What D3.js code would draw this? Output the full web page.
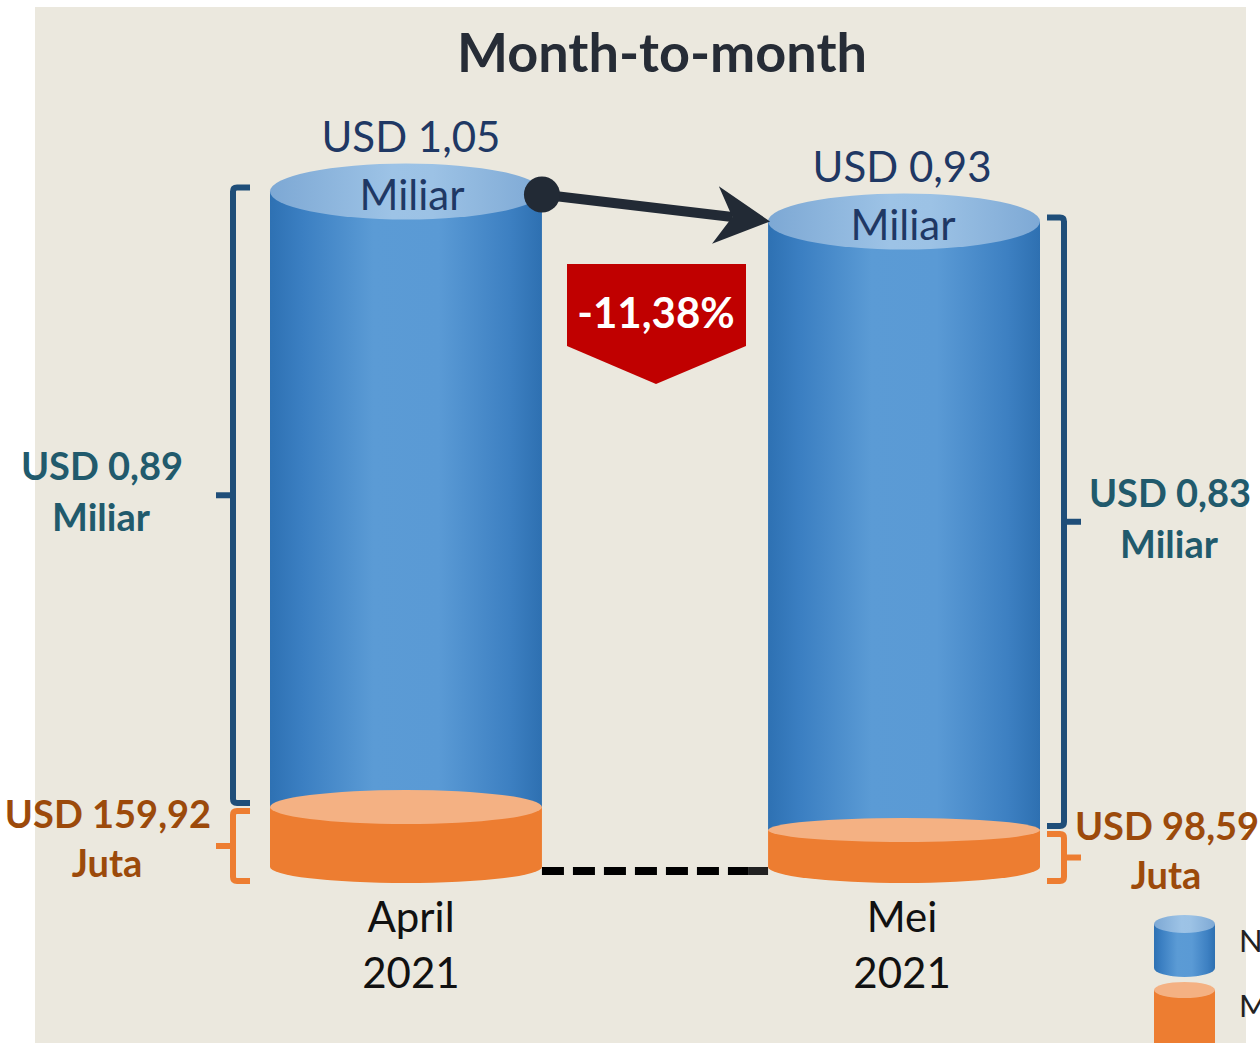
<!DOCTYPE html>
<html>
<head>
<meta charset="utf-8">
<script src="https://cdn.jsdelivr.net/npm/d3@7"></script>
<style>
  html, body { margin: 0; padding: 0; background: #fff; overflow: hidden; }
  text { font-family: Lato, "Noto Sans", sans-serif; }
</style>
</head>
<body>
<svg id="chart" width="1260" height="1043"></svg>
<script>
// data
const months = ["April", "Mei"];
const years = ["2021", "2021"];
const totalMiliar = [1.05, 0.93];
const nonmigasMiliar = [0.89, 0.83];
const migasJuta = [159.92, 98.59];
const totalLabels = ["USD 1,05", "USD 0,93"];
const nonmigasLabels = ["USD 0,89", "USD 0,83"];
const migasLabels = ["USD 159,92", "USD 98,59"];
const changeLabel = "-11,38%";
const legendNames = ["Nonmigas", "Migas"];

const svg = d3.select("#chart");
const W = 1260, H = 1043;
const baseY = 867;

// background panel
svg.append("rect").attr("x", 35).attr("y", 7).attr("width", 1211).attr("height", H - 7).attr("fill", "#EBE8DE");

const defs = svg.append("defs");
function hGrad(id, stops) {
  const g = defs.append("linearGradient").attr("id", id).attr("x1", 0).attr("x2", 1).attr("y1", 0).attr("y2", 0);
  stops.forEach(s => g.append("stop").attr("offset", s[0]).attr("stop-color", s[1]));
}
hGrad("blueSide", [[0, "#2E71B3"], [0.12, "#3B7FC2"], [0.38, "#5B9BD5"], [0.62, "#5A9AD5"], [0.88, "#3D80C2"], [1, "#2E70B1"]]);
hGrad("blueTop", [[0, "#7DA8D4"], [0.45, "#9DC3E6"], [0.6, "#9CC2E5"], [1, "#7EA9D5"]]);

// scales
const x = d3.scaleBand().domain(months).range([270, 1040]).paddingInner(0.454).paddingOuter(0);
const yTotal = d3.scaleLinear().domain([0, 1.2]).range([454, 154]);
const hMigas = d3.scaleLinear().domain([0, 160]).range([0, 60]);

const rx = x.bandwidth() / 2;
const ryTop = 28, ryBot = 16;
const ryMid = [17, 12];
const labelShift = [5, -2];

// title
svg.append("text").attr("x", 662).attr("y", 72).attr("text-anchor", "middle")
  .attr("font-size", 54).attr("font-weight", 700).attr("fill", "#262C36").text("Month-to-month");

const cyl = months.map((m, i) => {
  const x0 = x(m), x1 = x(m) + x.bandwidth();
  return { i, x0, x1, cx: (x0 + x1) / 2, top: yTotal(totalMiliar[i]), mid: baseY - hMigas(migasJuta[i]) };
});

function drawCylinder(g, x0, x1, top, mid, bot, rTop, rMid, rBot) {
  const cx = (x0 + x1) / 2, r = (x1 - x0) / 2;
  g.append("path")
    .attr("d", `M${x0},${top}L${x0},${mid}L${x1},${mid}L${x1},${top}Z`)
    .attr("fill", "url(#blueSide)");
  g.append("ellipse").attr("cx", cx).attr("cy", top).attr("rx", r).attr("ry", rTop).attr("fill", "url(#blueTop)");
  if (bot != null) {
    g.append("path")
      .attr("d", `M${x0},${mid}L${x0},${bot}A${r},${rBot} 0 0 0 ${x1},${bot}L${x1},${mid}Z`)
      .attr("fill", "#ED7D31");
    g.append("ellipse").attr("cx", cx).attr("cy", mid).attr("rx", r).attr("ry", rMid).attr("fill", "#F4B183");
  }
}

// bottom dashed connector
svg.append("line").attr("x1", cyl[0].x1).attr("x2", cyl[1].x0 - 20).attr("y1", baseY + 4).attr("y2", baseY + 4)
  .attr("stroke", "#000").attr("stroke-width", 8).attr("stroke-dasharray", "22,9");
svg.append("line").attr("x1", cyl[1].x0 - 20).attr("x2", cyl[1].x0).attr("y1", baseY + 4).attr("y2", baseY + 4)
  .attr("stroke", "#222").attr("stroke-width", 8);

cyl.forEach(c => {
  const g = svg.append("g");
  const lx = c.cx + labelShift[c.i];
  drawCylinder(g, c.x0, c.x1, c.top, c.mid, baseY, ryTop, ryMid[c.i], ryBot);

  g.append("text").attr("x", lx).attr("y", c.top - 40).attr("text-anchor", "middle")
    .attr("font-size", 42).attr("fill", "#1F3864").text(totalLabels[c.i]);
  g.append("text").attr("x", lx + 1).attr("y", c.top + 18).attr("text-anchor", "middle")
    .attr("font-size", 42).attr("fill", "#1F3864").text("Miliar");

  g.append("text").attr("x", lx).attr("y", 932).attr("text-anchor", "middle")
    .attr("font-size", 42).attr("fill", "#111").text(months[c.i]);
  g.append("text").attr("x", lx).attr("y", 988).attr("text-anchor", "middle")
    .attr("font-size", 42).attr("fill", "#111").text(years[c.i]);
});

// curly brackets
function bracket(xv, y0, y1, side, color) {
  // side = -1: hooks point right, tick points left ("{"); side = 1: the mirror ("}")
  const hook = 17 * -side, tick = 17 * side, ym = (y0 + y1) / 2, rr = 4 * -side;
  const p = d3.path();
  p.moveTo(xv + hook, y0);
  p.lineTo(xv + rr, y0);
  p.quadraticCurveTo(xv, y0, xv, y0 + 4);
  p.lineTo(xv, y1 - 4);
  p.quadraticCurveTo(xv, y1, xv + rr, y1);
  p.lineTo(xv + hook, y1);
  svg.append("path").attr("d", p.toString()).attr("fill", "none").attr("stroke", color).attr("stroke-width", 6);
  svg.append("line").attr("x1", xv).attr("x2", xv + tick).attr("y1", ym).attr("y2", ym)
    .attr("stroke", color).attr("stroke-width", 6);
  return ym;
}

const navy = "#1F4E79", orange = "#ED7D31";
const teal = "#215A6C", brown = "#9C4A0B";
const sideX = [cyl[0].x0 - 37, cyl[1].x1 + 24];
const sideText = [105, 1170];
const brownShift = [3, -3];

cyl.forEach(c => {
  const s = c.i === 0 ? -1 : 1;
  const mN = bracket(sideX[c.i], c.top - 4, c.mid - 4, s, navy);
  const mM = bracket(sideX[c.i], c.mid + 4, baseY + 14, s, orange);
  svg.append("text").attr("x", sideText[c.i] - 3 + (c.i ? 3 : 0)).attr("y", mN - 15).attr("text-anchor", "middle")
    .attr("font-size", 38).attr("font-weight", 700).attr("fill", teal).text(nonmigasLabels[c.i]);
  svg.append("text").attr("x", sideText[c.i] - 4 + (c.i ? 3 : 0)).attr("y", mN + 36).attr("text-anchor", "middle")
    .attr("font-size", 38).attr("font-weight", 700).attr("fill", teal).text("Miliar");
  svg.append("text").attr("x", sideText[c.i] + brownShift[c.i]).attr("y", mM - 18).attr("text-anchor", "middle")
    .attr("font-size", 38).attr("font-weight", 700).attr("fill", brown).text(migasLabels[c.i]);
  svg.append("text").attr("x", sideText[c.i] + brownShift[c.i] - 1).attr("y", mM + 31).attr("text-anchor", "middle")
    .attr("font-size", 38).attr("font-weight", 700).attr("fill", brown).text("Juta");
});

// arrow from April top to Mei top
const a0 = [cyl[0].x1, cyl[0].top + 3], a1 = [cyl[1].x0 + 2, cyl[1].top];
const dx = a1[0] - a0[0], dy = a1[1] - a0[1], len = Math.hypot(dx, dy);
const u = [dx / len, dy / len], n = [-u[1], u[0]];
const headL = 55, headW = 29, notch = 38;
const back = [a1[0] - headL * u[0], a1[1] - headL * u[1]];
const nb = [a1[0] - notch * u[0], a1[1] - notch * u[1]];
svg.append("line").attr("x1", a0[0]).attr("y1", a0[1]).attr("x2", nb[0]).attr("y2", nb[1])
  .attr("stroke", "#222A35").attr("stroke-width", 10);
svg.append("polygon").attr("points", [
  a1, [back[0] + headW * n[0], back[1] + headW * n[1]], nb, [back[0] - headW * n[0], back[1] - headW * n[1]]
].map(p => p.join(",")).join(" ")).attr("fill", "#222A35");
svg.append("circle").attr("cx", a0[0]).attr("cy", a0[1]).attr("r", 18).attr("fill", "#222A35");

// change badge
const bx = (cyl[0].x1 + cyl[1].x0) / 2 + 1;
svg.append("polygon").attr("points", [
  [bx - 89, 264], [bx + 90, 264], [bx + 90, 346], [bx, 384], [bx - 89, 346]
].map(p => p.join(",")).join(" ")).attr("fill", "#C00000");
svg.append("text").attr("x", bx).attr("y", 328).attr("text-anchor", "middle")
  .attr("font-size", 42).attr("font-weight", 700).attr("fill", "#fff").text(changeLabel);

// legend
const lg = svg.append("g");
drawCylinder(lg, 1154, 1215, 924, 968, null, 9, 0, 9);
lg.append("path").attr("d", "M1154,968A30.5,9 0 0 0 1215,968L1154,968Z").attr("fill", "url(#blueSide)");
lg.append("path").attr("d", "M1154,990L1154,1050L1215,1050L1215,990Z").attr("fill", "#ED7D31");
lg.append("ellipse").attr("cx", 1184.5).attr("cy", 990).attr("rx", 30.5).attr("ry", 8).attr("fill", "#F4B183");
lg.selectAll("text.lg").data(legendNames).enter().append("text")
  .attr("x", 1239).attr("y", (d, i) => 952 + i * 65)
  .attr("font-size", 31).attr("fill", "#222").text(d => d);
</script>
</body>
</html>
